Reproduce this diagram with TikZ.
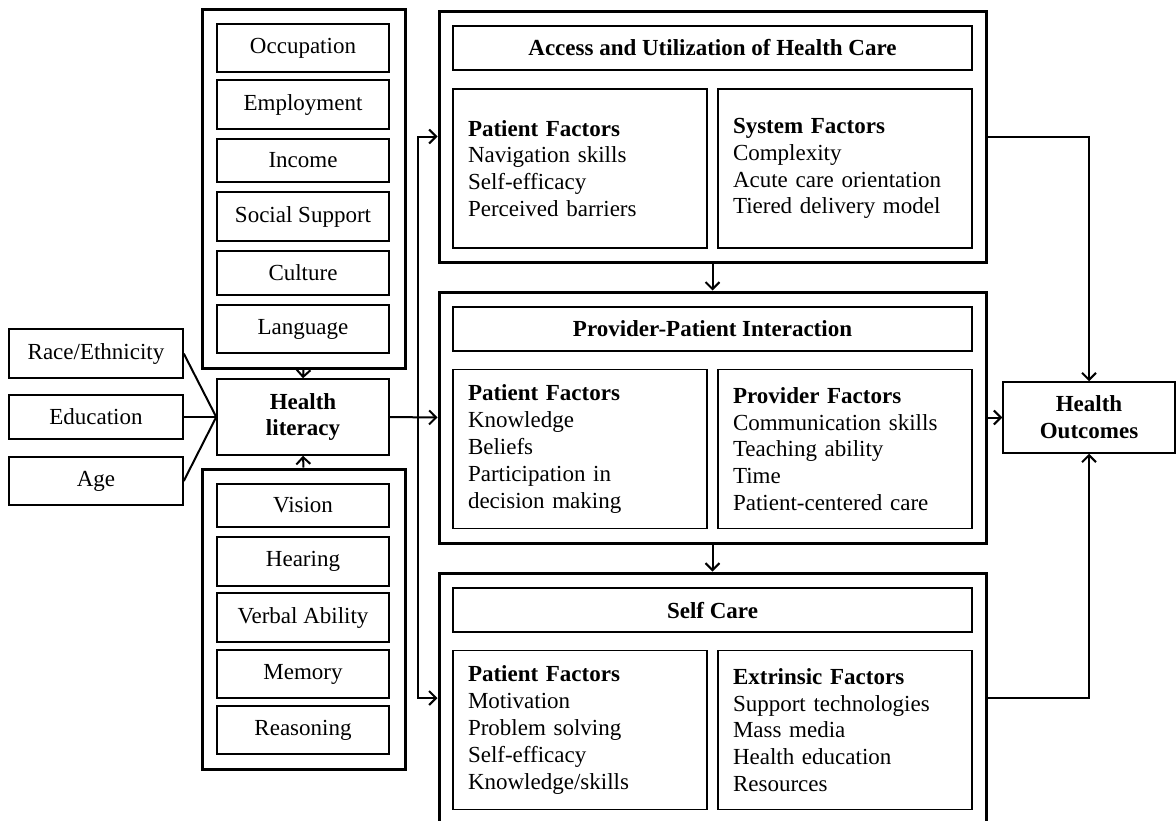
\documentclass[tikz,border=0pt]{standalone}
\usepackage{fontspec}
\setmainfont{Liberation Serif}
\usetikzlibrary{arrows.meta}

\tikzset{
  txt/.style={font=\fontsize{11.5}{13.4}\selectfont},
  plain/.style={draw, line width=0.75pt, txt, align=center, inner sep=0pt},
  grp/.style={draw, line width=1.5pt, inner sep=0pt},
  smallbox/.style={plain, minimum width=86pt},
  titlebox/.style={plain, minimum width=259.5pt, minimum height=22pt, font=\fontsize{11.5}{13.4}\selectfont\bfseries},
  factor/.style={draw, line width=0.75pt, txt, align=left, text width=112pt,
    inner xsep=7.5pt, inner ysep=0pt, minimum height=79.5pt},
  conn/.style={line width=1pt},
  arr/.style={conn, -{Straight Barb[length=3.5pt,width=7pt]}},
}

\begin{document}
\begin{tikzpicture}[x=0.5pt, y=-0.5pt]
\useasboundingbox (0,0) rectangle (1176,820);

% left-hand determinants
\node[plain, minimum width=87pt, minimum height=24.5pt] (race) at (96,353.5) {Race/Ethnicity};
\node[plain, minimum width=87pt, minimum height=22pt] (edu) at (96,417) {Education};
\node[plain, minimum width=87pt, minimum height=24pt] (age) at (96,481) {Age};

% health literacy
\node[plain, minimum width=86pt, minimum height=38pt, font=\fontsize{11.5}{13.4}\selectfont\bfseries] (hl) at (303,417) {Health\\literacy};

% social factors
\node[grp, minimum width=101.5pt, minimum height=179.5pt] (social) at (303.5,188.5) {};
\node[smallbox, minimum height=24pt]   (occ)  at (303,48)    {Occupation};
\node[smallbox, minimum height=24.5pt] (emp)  at (303,104.5) {Employment};
\node[smallbox, minimum height=21.5pt] (inc)  at (303,160.5) {Income};
\node[smallbox, minimum height=24.5pt] (sup)  at (303,216.5) {Social Support};
\node[smallbox, minimum height=22pt]   (cul)  at (303,273)   {Culture};
\node[smallbox, minimum height=24pt]   (lang) at (303,329)   {Language};

% individual abilities
\node[grp, minimum width=101.5pt, minimum height=150pt] (ability) at (303.5,619) {};
\node[smallbox, minimum height=21.5pt] (vis)  at (303,505.5) {Vision};
\node[smallbox, minimum height=24.5pt] (hear) at (303,561.5) {Hearing};
\node[smallbox, minimum height=24.5pt] (verb) at (303,617.5) {Verbal Ability};
\node[smallbox, minimum height=24pt]   (mem)  at (303,674)   {Memory};
\node[smallbox, minimum height=24pt]   (reas) at (303,730)   {Reasoning};

% access and utilization
\node[grp, minimum width=273.5pt, minimum height=125.5pt] (acc) at (712.5,136.5) {};
\node[titlebox] (accT) at (712.5,48) {Access and Utilization of Health Care};
\node[factor] (accL) at (580,168.5) {\textbf{Patient Factors}\\Navigation skills\\Self-efficacy\\Perceived barriers};
\node[factor] (accR) at (845,168.5) {\textbf{System Factors}\\Complexity\\Acute care orientation\\Tiered delivery model};

% provider-patient interaction
\node[grp, minimum width=273.5pt, minimum height=125.5pt] (ppi) at (712.5,417.5) {};
\node[titlebox] (ppiT) at (712.5,329) {Provider-Patient Interaction};
\node[factor] (ppiL) at (580,449) {\textbf{Patient Factors}\\Knowledge\\Beliefs\\Participation in\\decision making};
\node[factor] (ppiR) at (845,449) {\textbf{Provider Factors}\\Communication skills\\Teaching ability\\Time\\Patient-centered care};

% self care (its lower edge runs just past the page)
\node[grp, minimum width=273.5pt, minimum height=125pt] (self) at (712.5,698) {};
\node[titlebox] (selfT) at (712.5,610) {Self Care};
\node[factor] (selfL) at (580,730) {\textbf{Patient Factors}\\Motivation\\Problem solving\\Self-efficacy\\Knowledge/skills};
\node[factor] (selfR) at (845,730) {\textbf{Extrinsic Factors}\\Support technologies\\Mass media\\Health education\\Resources};

% outcomes
\node[plain, minimum width=86pt, minimum height=35.5pt, font=\fontsize{11.5}{13.4}\selectfont\bfseries] (out) at (1089,417.5) {Health\\Outcomes};

% connectors
\draw[conn] (race.east) -- (hl.west);
\draw[conn] (edu.east) -- (hl.west);
\draw[conn] (age.east) -- (hl.west);
\draw[arr] (social.south) -- (hl.north);
\draw[arr] (ability.north) -- (hl.south);

\coordinate (split) at (418,417);
\draw[arr] (hl.east) -- (ppi.west);
\draw[arr] (split) |- (acc.west);
\draw[arr] (split) |- (self.west);

\draw[arr] (acc.south) -- (ppi.north);
\draw[arr] (ppi.south) -- (self.north);

\draw[arr] (acc.east) -| (out.north);
\draw[arr] (ppi.east) -- (out.west);
\draw[arr] (self.east) -| (out.south);
\end{tikzpicture}
\end{document}
